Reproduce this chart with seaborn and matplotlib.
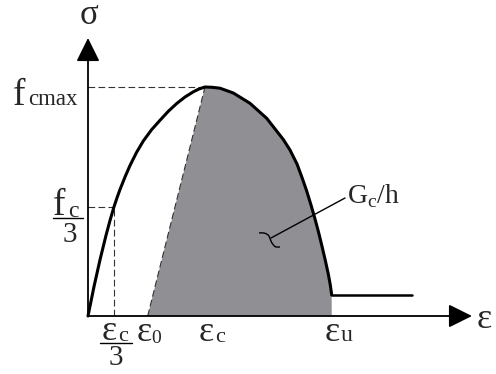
import matplotlib
matplotlib.use("Agg")
import matplotlib.pyplot as plt
import matplotlib.transforms as mtransforms
from matplotlib.path import Path
from matplotlib.patches import PathPatch
import pandas as pd
import seaborn as sns

# Normalised stress-strain law (strain in units of eps_c, stress in units of f_cmax)
EPS_ASC = [0.0, 0.0513, 0.1026, 0.1538, 0.1880, 0.2222, 0.2479, 0.2735, 0.3162, 0.3590,
           0.4145, 0.4726, 0.5427, 0.6154, 0.6863, 0.7581, 0.8291, 0.9000, 0.9487, 1.0]
SIG_ASC = [0.0, 0.1284, 0.2454, 0.3520, 0.4170, 0.4769, 0.5162, 0.5524, 0.6070, 0.6572,
           0.7140, 0.7642, 0.8131, 0.8546, 0.8939, 0.9279, 0.9563, 0.9790, 0.9913, 1.0]
EPS_DESC = [1.0, 1.0598, 1.1282, 1.2419, 1.3846, 1.5274, 1.6692, 1.7265, 1.7863,
            1.8291, 1.8692, 1.9060, 1.9402, 1.9701, 1.9974, 2.0256, 2.0538, 2.0709, 2.0829]
SIG_DESC = [1.0, 0.9987, 0.9948, 0.9738, 0.9288, 0.8633, 0.7707, 0.7249, 0.6638,
            0.6048, 0.5459, 0.4847, 0.4236, 0.3668, 0.3100, 0.2489, 0.1834, 0.1354, 0.0917]

EPS_C3 = 0.2222     # eps_c / 3
SIG_C3 = 0.4769     # f_c / 3
EPS_0 = 0.51        # unloading intercept
EPS_C = 1.0         # strain at peak
SIG_MAX = 1.0       # f_cmax
EPS_U = 2.0829      # ultimate strain
SIG_RES = 0.0917    # residual stress
EPS_RES_END = 2.77  # end of residual plateau

W, H = 496, 374
X0, Y0 = 88, 316          # origin position in pixels
SX, SY = 117, 229         # pixels per unit strain / stress

sns.set_style("white")
plt.rcParams["font.family"] = ["Liberation Serif", "DejaVu Serif"]

fig = plt.figure(figsize=(W / 100, H / 100), dpi=100)
ax = fig.add_axes([0, 0, 1, 1])
ax.set_xlim(-X0 / SX, (W - X0) / SX)
ax.set_ylim(-(H - Y0) / SY, Y0 / SY)
ax.axis("off")

# pixel coordinates (y downward) for the symbolic labels
pix = mtransforms.Affine2D().scale(1 / W, -1 / H).translate(0, 1) + fig.transFigure

# shaded dissipated energy G_c/h
fill_x = [EPS_0] + EPS_DESC + [EPS_U]
fill_y = [0.0] + SIG_DESC + [0.0]
ax.fill(fill_x, fill_y, color="#8f8f94", lw=0, zorder=1)

# stress-strain curve
curve = pd.DataFrame({"eps": EPS_ASC + EPS_DESC[1:], "sig": SIG_ASC + SIG_DESC[1:]})
line_kw = dict(sort=False, estimator=None, color="black", ax=ax, zorder=4)
sns.lineplot(data=curve, x="eps", y="sig", lw=2.2, **line_kw)
ax.lines[-1].set_solid_joinstyle("round")
# residual plateau
sns.lineplot(x=[EPS_U, EPS_RES_END], y=[SIG_RES, SIG_RES], lw=1.8, **line_kw)

dash = dict(color="#333333", lw=0.8, ls=(0, (6, 3)), zorder=3)
ax.plot([0, EPS_C], [SIG_MAX, SIG_MAX], **dash)
ax.plot([0, EPS_C3], [SIG_C3, SIG_C3], **dash)
ax.plot([EPS_C3, EPS_C3], [0, SIG_C3], **dash)
ax.plot([EPS_0, EPS_C], [0, SIG_MAX], **dash)

# axes with arrows
arrow = dict(arrowstyle="-|>,head_length=1.45,head_width=0.72", lw=1.3,
             color="black", mutation_scale=10, shrinkA=0, shrinkB=0)
ax.annotate("", xy=((472 - X0) / SX, 0), xytext=(0, 0), arrowprops=arrow, zorder=5)
ax.annotate("", xy=(0, (Y0 - 38) / SY), xytext=(0, 0), arrowprops=arrow, zorder=5)

BIG, SUB = 26, 16


def txt(x, y, s, size, ha="left"):
    ax.text(x, y, s, transform=pix, fontsize=size, ha=ha, va="baseline", zorder=6)


# axis titles
txt(89, 24, "σ", 25, ha="center")
txt(477, 328, "ε", BIG)

# stress labels
txt(13, 105, "f", 27)
txt(28, 105, "cmax", 16.5)
txt(53, 215, "f", 27)
txt(68, 217, "c", 17)
ax.plot([53, 83], [218.5, 218.5], transform=pix, color="black", lw=1.0)
txt(69.5, 242, "3", 21, ha="center")

# strain labels
txt(102, 340, "ε", BIG)
txt(118, 341, "c", SUB)
ax.plot([100, 132], [343.5, 343.5], transform=pix, color="black", lw=1.0)
txt(116, 365, "3", 21, ha="center")
txt(137, 341, "ε", BIG)
txt(151.5, 343, "0", 14)
txt(199, 341, "ε", BIG)
txt(215, 342, "c", SUB)
txt(325, 341, "ε", BIG)
txt(341, 341, "u", 17)

# energy label with leader
txt(347, 203, r"G$_{\mathregular{c}}$/h", 20)
ax.plot([345, 271], [198, 238], transform=pix, color="black", lw=1.0)
squiggle = Path([(259, 233), (266, 232), (269, 236), (271, 241),
                 (273, 246), (276, 247), (280, 247)],
                [Path.MOVETO, Path.CURVE3, Path.CURVE3, Path.LINETO,
                 Path.CURVE3, Path.CURVE3, Path.LINETO])
ax.add_patch(PathPatch(squiggle, transform=pix, fill=False, lw=1.0, color="black"))

fig.savefig("out.png", dpi=100)
